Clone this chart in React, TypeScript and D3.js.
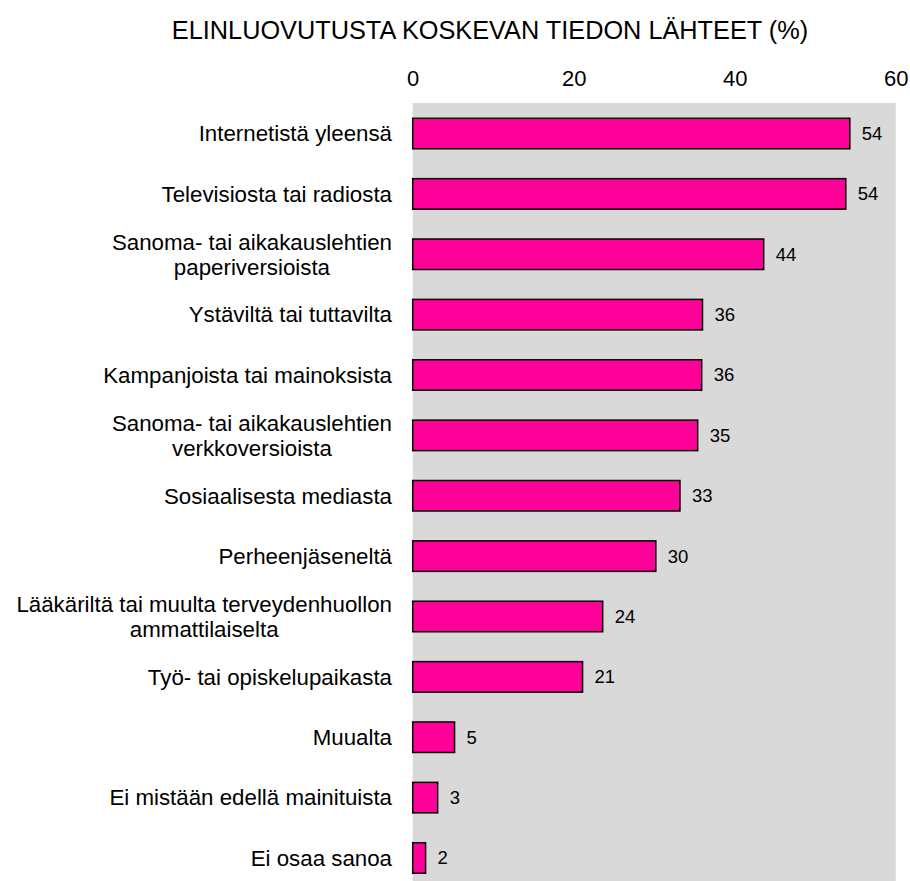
import React, { useRef, useEffect } from 'react';
import * as d3 from 'd3';

const title = 'ELINLUOVUTUSTA KOSKEVAN TIEDON LÄHTEET (%)';

const categories = [
  'Internetistä yleensä',
  'Televisiosta tai radiosta',
  'Sanoma- tai aikakauslehtien\npaperiversioista',
  'Ystäviltä tai tuttavilta',
  'Kampanjoista tai mainoksista',
  'Sanoma- tai aikakauslehtien\nverkkoversioista',
  'Sosiaalisesta mediasta',
  'Perheenjäseneltä',
  'Lääkäriltä tai muulta terveydenhuollon\nammattilaiselta',
  'Työ- tai opiskelupaikasta',
  'Muualta',
  'Ei mistään edellä mainituista',
  'Ei osaa sanoa',
];

const values = [54.3, 53.8, 43.6, 36.0, 35.9, 35.4, 33.2, 30.2, 23.6, 21.1, 5.2, 3.1, 1.6];

const tickValues = [0, 20, 40, 60];

const FONT = '"Liberation Sans", Arial, sans-serif';

function App() {
  const svgRef = useRef(null);

  const width = 910;
  const height = 881;

  useEffect(() => {
    const svg = d3.select(svgRef.current);
    svg.selectAll('*').remove();

    const x = d3.scaleLinear().domain([0, 60]).range([412.7, 895.7]);
    const y = d3.scaleBand()
      .domain(categories)
      .range([103.5, 888])
      .paddingInner(0.495)
      .paddingOuter(0.245);

    // grey plot background
    svg.append('rect')
      .attr('x', x(0))
      .attr('y', 103)
      .attr('width', x(60) - x(0))
      .attr('height', height - 103)
      .attr('fill', '#d9d9d9');

    // title
    svg.append('text')
      .attr('x', 490)
      .attr('y', 39)
      .attr('text-anchor', 'middle')
      .style('font-family', FONT)
      .style('font-size', '25.3px')
      .attr('fill', '#000')
      .text(title);

    // top axis
    const axis = svg.append('g')
      .attr('transform', 'translate(0, 86)')
      .call(d3.axisTop(x).tickValues(tickValues).tickSize(0).tickPadding(0));
    axis.select('.domain').remove();
    axis.selectAll('text')
      .style('font-family', FONT)
      .style('font-size', '22px')
      .attr('fill', '#000');

    // bars
    svg.append('g')
      .selectAll('rect')
      .data(values)
      .join('rect')
      .attr('x', x(0))
      .attr('y', (d, i) => y(categories[i]))
      .attr('width', d => x(d) - x(0))
      .attr('height', y.bandwidth())
      .attr('fill', '#ff0099')
      .attr('stroke', '#000')
      .attr('stroke-width', 1.5);

    // value labels
    svg.append('g')
      .selectAll('text')
      .data(values)
      .join('text')
      .attr('x', d => x(d) + 12)
      .attr('y', (d, i) => y(categories[i]) + y.bandwidth() / 2)
      .attr('dy', '0.35em')
      .style('font-family', FONT)
      .style('font-size', '18.5px')
      .attr('fill', '#000')
      .text(d => Math.round(d));

    // category labels, multi-line blocks centred and right-aligned
    const labelRight = 392;
    const lineH = 25;
    const labels = svg.append('g');
    categories.forEach(c => {
      const lines = c.split('\n');
      const cy = y(c) + y.bandwidth() / 2;
      const t = labels.append('text')
        .style('font-family', FONT)
        .style('font-size', '22.3px')
        .attr('fill', '#000');
      lines.forEach((ln, j) => {
        t.append('tspan')
          .attr('y', cy + (j - (lines.length - 1) / 2) * lineH)
          .attr('dy', '0.35em')
          .text(ln);
      });
      const spans = t.selectAll('tspan').nodes();
      const maxW = d3.max(spans, n => n.getComputedTextLength());
      t.selectAll('tspan')
        .attr('x', labelRight - maxW / 2)
        .attr('text-anchor', 'middle');
    });
  }, []);

  return (
    <svg
      ref={svgRef}
      width={width}
      height={height}
      style={{ position: 'absolute', left: 0, top: 0, background: '#fff' }}
    ></svg>
  );
}

export default App;
